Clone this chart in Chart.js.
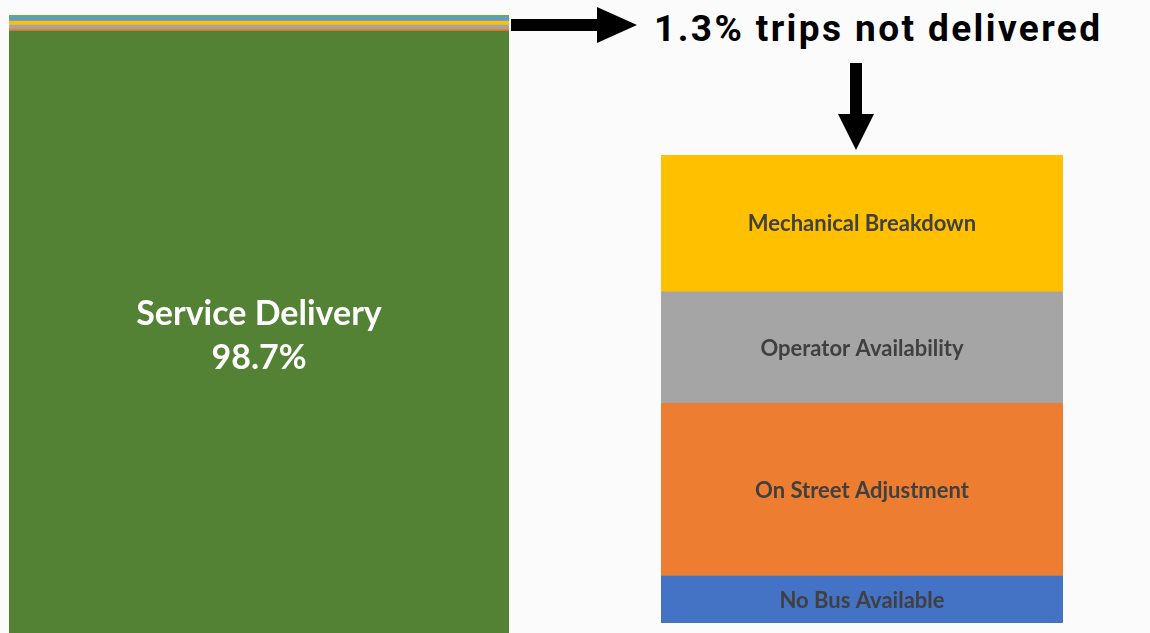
<!DOCTYPE html>
<html>
<head>
<meta charset="utf-8">
<script src="https://cdn.jsdelivr.net/npm/chart.js@4"></script>
<style>
  body { margin: 0; background: #fbfbfb; width: 1150px; height: 633px; overflow: hidden; position: relative; font-family: Lato, "Open Sans", sans-serif; }
  canvas { position: absolute; }
  #leftChart { left: 9px; top: 15px; }
  #rightChart { left: 661px; top: 155px; }
  #title { position: absolute; left: 654px; top: 9px; font-family: Roboto, sans-serif; font-weight: bold; font-size: 37px; line-height: 40px; color: #000; white-space: nowrap; letter-spacing: 2.4px; }
  svg { position: absolute; left: 0; top: 0; }
</style>
</head>
<body>
<canvas id="leftChart" width="500" height="618"></canvas>
<canvas id="rightChart" width="402" height="468"></canvas>
<div id="title">1.3% trips not delivered</div>
<svg width="1150" height="633">
  <polygon points="511,19 597,19 597,7 637,25 597,43 597,31 511,31" fill="#000"/>
  <polygon points="850,63 862,63 862,114 874,114 856,150 838,114 850,114" fill="#000"/>
</svg>
<script>
// Viaje total: entregado vs no entregado (porcentaje de viajes)
const leftCategories = ['Service Delivery', 'On Street Adjustment', 'Operator Availability', 'Mechanical Breakdown', 'No Bus Available', 'Other'];
const leftValues = [98.7, 0.16, 0.32, 0.32, 0.33, 0.17];
const leftColors = ['#548235', '#ed7d31', '#a5a5a5', '#ffc000', '#5b9bd5', '#70ad47'];
const leftLabels = [['Service Delivery', '98.7%'], null, null, null, null, null];

// Desglose del 1.3% no entregado
const rightCategories = ['No Bus Available', 'On Street Adjustment', 'Operator Availability', 'Mechanical Breakdown'];
const rightValues = [0.13, 0.48, 0.31, 0.38];
const rightColors = ['#4472c4', '#ed7d31', '#a5a5a5', '#ffc000'];

// Etiquetas dentro de cada segmento de la barra
const segmentLabels = {
  id: 'segmentLabels',
  afterDatasetsDraw(chart, args, opts) {
    const ctx = chart.ctx;
    const area = chart.chartArea;
    chart.data.datasets.forEach((ds, i) => {
      if (!ds.inner) return;
      const bar = chart.getDatasetMeta(i).data[0];
      const top = Math.max(Math.min(bar.y, bar.base), area.top);
      const bottom = Math.min(Math.max(bar.y, bar.base), area.bottom);
      const cy = (top + bottom) / 2 + opts.offsetY;
      ctx.save();
      ctx.fillStyle = opts.color;
      ctx.font = opts.font;
      ctx.textAlign = 'center';
      ctx.textBaseline = 'middle';
      const n = ds.inner.length;
      ds.inner.forEach((line, k) => {
        ctx.fillText(line, bar.x, cy + (k - (n - 1) / 2) * opts.lineHeight);
      });
      ctx.restore();
    });
  }
};

function makeChart(id, cats, vals, colors, inner, yMin, yMax, labelOpts) {
  new Chart(document.getElementById(id), {
    type: 'bar',
    data: {
      labels: [''],
      datasets: cats.map((c, i) => ({
        label: c,
        data: [vals[i]],
        backgroundColor: colors[i],
        borderWidth: 0,
        inner: inner[i],
        barPercentage: 1,
        categoryPercentage: 1
      }))
    },
    options: {
      responsive: false,
      animation: false,
      devicePixelRatio: 1,
      layout: { padding: 0 },
      plugins: { legend: { display: false }, tooltip: { enabled: false }, segmentLabels: labelOpts },
      scales: {
        x: { stacked: true, display: false },
        y: { stacked: true, display: false, min: yMin, max: yMax }
      }
    },
    plugins: [segmentLabels]
  });
}

makeChart('leftChart', leftCategories, leftValues, leftColors, leftLabels, 50, 100,
  { color: '#ffffff', font: 'bold 34px Lato', lineHeight: 44, offsetY: 4 });
makeChart('rightChart', rightCategories, rightValues, rightColors, rightCategories.map(c => [c]), 0, 1.3,
  { color: '#404040', font: 'bold 22px Lato', lineHeight: 24, offsetY: 1 });
</script>
</body>
</html>
